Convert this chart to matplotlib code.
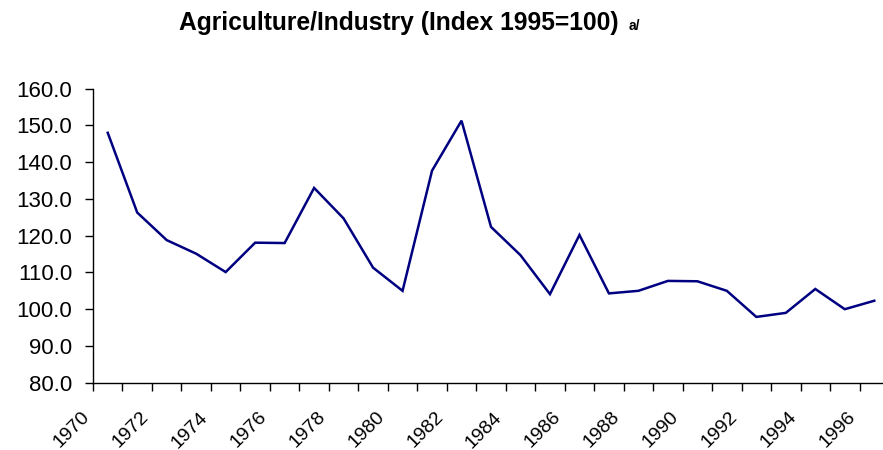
import matplotlib
matplotlib.use("Agg")
import matplotlib.pyplot as plt
import matplotlib.transforms as mtransforms
from matplotlib.ticker import FormatStrFormatter

years = list(range(1970, 1997))
values = [148.0, 126.3, 118.8, 115.1, 110.1, 118.1, 118.0, 133.0, 124.7, 111.3,
          105.0, 137.7, 151.3, 122.4, 114.7, 104.1, 120.2, 104.3, 105.0, 107.7,
          107.6, 105.0, 97.9, 99.0, 105.5, 100.0, 102.3]
tick_labels = [str(y) for y in years[::2]]
title = "Agriculture/Industry (Index 1995=100)"
note = "a/"

plt.rcParams['font.family'] = ['Liberation Sans', 'DejaVu Sans']

fig = plt.figure(figsize=(8.83, 4.5), dpi=100)
ax = fig.add_axes([93/883, 67.3/450, 796/883, 294/450])

x = list(range(len(years)))
ax.plot(x, values, color='#000080', lw=1.8, solid_joinstyle='miter')

ax.set_xlim(-0.5, len(years) - 0.5)
ax.set_ylim(80, 160)
ax.set_yticks(range(80, 161, 10))
ax.yaxis.set_major_formatter(FormatStrFormatter('%.1f'))
ax.tick_params(axis='y', direction='out', length=6, width=1, labelsize=16, pad=9, color='black')

ax.set_xticks(x[::2])
ax.set_xticklabels(tick_labels, rotation=45, ha='right', va='center', rotation_mode='anchor', fontsize=14)
ax.set_xticks([i - 0.5 for i in range(len(years) + 1)], minor=True)
ax.tick_params(axis='x', which='major', length=0, pad=23)
ax.tick_params(axis='x', which='minor', direction='out', length=6, width=1, color='black')

offset = mtransforms.ScaledTranslation(-21/100, 0, fig.dpi_scale_trans)
for lbl in ax.get_xticklabels():
    lbl.set_transform(lbl.get_transform() + offset)

for s in ['top', 'right']:
    ax.spines[s].set_visible(False)
for s in ['left', 'bottom']:
    ax.spines[s].set_linewidth(1)
    ax.spines[s].set_color('black')

fig.text(179/883, 1 - 30/450, title, fontsize=17.7, fontweight='bold', ha='left', va='baseline')
fig.text(629/883, 1 - 30/450, note, fontsize=10, fontweight='bold', ha='left', va='baseline')

fig.savefig("out.png", dpi=100)
